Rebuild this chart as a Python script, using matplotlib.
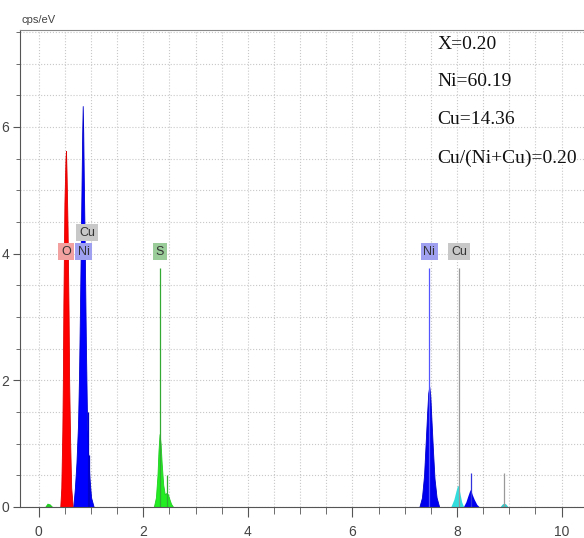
import matplotlib
matplotlib.use('Agg')
import matplotlib.pyplot as plt
from matplotlib.ticker import MultipleLocator

# filled spectrum pieces (energy keV, counts cps/eV)
bump_e = [0.11, 0.16, 0.21, 0.27]
bump_c = [0.0, 0.06, 0.05, 0.0]

o_e = [0.41, 0.43, 0.45, 0.46, 0.47, 0.49, 0.51, 0.52, 0.53, 0.55, 0.57, 0.58, 0.60, 0.62, 0.65]
o_c = [0.0, 0.3, 1.2, 2.0, 3.2, 4.8, 5.5, 5.62, 5.3, 4.4, 3.0, 2.0, 1.0, 0.3, 0.0]

nil_e = [0.66, 0.69, 0.72, 0.75, 0.77, 0.79, 0.81, 0.83, 0.84, 0.85, 0.86, 0.88, 0.90, 0.92, 0.94, 0.97, 1.00, 1.05]
nil_c = [0.0, 0.3, 0.7, 1.3, 2.1, 3.3, 4.6, 5.9, 6.33, 5.9, 5.2, 4.0, 2.6, 1.5, 0.9, 0.45, 0.15, 0.0]

s_e = [2.20, 2.24, 2.27, 2.29, 2.31, 2.33, 2.35, 2.38, 2.41, 2.44, 2.47, 2.50, 2.53, 2.57]
s_c = [0.0, 0.15, 0.5, 0.9, 1.15, 1.0, 0.7, 0.35, 0.2, 0.22, 0.2, 0.12, 0.05, 0.0]

nik_e = [7.28, 7.33, 7.37, 7.40, 7.43, 7.45, 7.47, 7.49, 7.51, 7.54, 7.57, 7.61, 7.66]
nik_c = [0.0, 0.15, 0.5, 1.0, 1.5, 1.8, 1.9, 1.75, 1.4, 0.9, 0.45, 0.15, 0.0]

cuk_e = [7.88, 7.94, 7.98, 8.01, 8.03, 8.06, 8.09, 8.13]
cuk_c = [0.0, 0.12, 0.25, 0.34, 0.33, 0.2, 0.08, 0.0]

nikb_e = [8.12, 8.17, 8.21, 8.24, 8.26, 8.29, 8.33, 8.38, 8.43]
nikb_c = [0.0, 0.08, 0.18, 0.25, 0.28, 0.2, 0.12, 0.04, 0.0]

cukb_e = [8.82, 8.87, 8.90, 8.93, 8.98]
cukb_c = [0.0, 0.05, 0.06, 0.05, 0.0]

# element marker lines: energy, height, colour
markers = [
    (0.94, 1.5, '#0000cc'),
    (0.96, 0.82, '#0000cc'),
    (2.31, 3.77, '#33aa33'),
    (2.46, 0.5, '#33aa33'),
    (7.47, 3.77, '#5555ff'),
    (8.04, 3.77, '#999999'),
    (8.26, 0.54, '#3333dd'),
    (8.89, 0.54, '#999999'),
]

# peak labels: text, energy, height, box colour
labels = [
    ('O', 0.52, 4.03, '#f2a0a0'),
    ('Ni', 0.86, 4.03, '#a0a0f0'),
    ('Cu', 0.92, 4.33, '#c8c8c8'),
    ('S', 2.31, 4.03, '#99cc99'),
    ('Ni', 7.47, 4.03, '#a0a0f0'),
    ('Cu', 8.04, 4.03, '#c8c8c8'),
]

info = ['X=0.20', 'Ni=60.19', 'Cu=14.36', 'Cu/(Ni+Cu)=0.20']
info_y = [7.30, 6.71, 6.11, 5.51]

fig = plt.figure(figsize=(5.84, 5.38), dpi=100)
ax = fig.add_axes([20 / 584, 31 / 538, 564 / 584, 477 / 538])

ax.fill_between(bump_e, bump_c, color='#22cc22', lw=0)
ax.fill_between(o_e, o_c, color='#ff0000', lw=0.6, edgecolor='#dd0000')
ax.fill_between(nil_e, nil_c, color='#0000ff', lw=0.6, edgecolor='#0000cc')
ax.fill_between(s_e, s_c, color='#22ee22', lw=0.6, edgecolor='#22cc22')
ax.fill_between(nik_e, nik_c, color='#0000ee', lw=0.6, edgecolor='#0000cc')
ax.fill_between(cuk_e, cuk_c, color='#33dddd', lw=0)
ax.fill_between(nikb_e, nikb_c, color='#0000ee', lw=0)
ax.fill_between(cukb_e, cukb_c, color='#33cccc', lw=0)

for e, h, c in markers:
    ax.vlines(e, 0, h, color=c, lw=0.9)

for t, e, h, c in labels:
    ax.text(e, h, t, ha='center', va='center', fontsize=9, color='#333333',
            family='Liberation Sans',
            bbox=dict(boxstyle='square,pad=0.22', fc=c, ec='none'))

for t, y in zip(info, info_y):
    ax.text(7.63, y, t, ha='left', va='center', fontsize=14,
            family='Liberation Serif', color='#111111')

ax.set_xlim(-0.36, 10.43)
ax.set_ylim(0, 7.53)
ax.xaxis.set_major_locator(MultipleLocator(2))
ax.xaxis.set_minor_locator(MultipleLocator(0.5))
ax.yaxis.set_major_locator(MultipleLocator(2))
ax.yaxis.set_minor_locator(MultipleLocator(0.5))
ax.grid(which='both', linestyle=':', color='#c8c8c8', lw=0.8)
ax.set_axisbelow(True)

ax.tick_params(which='both', direction='out', color='#555555', labelcolor='#444444',
               labelsize=10)
ax.tick_params(axis='x', which='major', length=7, pad=6)
ax.tick_params(axis='x', which='minor', length=5)
ax.tick_params(axis='y', which='major', length=5, pad=3)
ax.tick_params(axis='y', which='minor', length=3)
for lab in ax.get_xticklabels() + ax.get_yticklabels():
    lab.set_family('Liberation Sans')

ax.spines['right'].set_visible(False)
ax.spines['top'].set_color('#888888')
ax.spines['left'].set_color('#555555')
ax.spines['bottom'].set_color('#555555')

fig.text(22 / 584, 1 - 20 / 538, 'cps/eV', fontsize=8, color='#444444',
         family='Liberation Sans', va='center', ha='left')

fig.savefig('out.png', dpi=100)
